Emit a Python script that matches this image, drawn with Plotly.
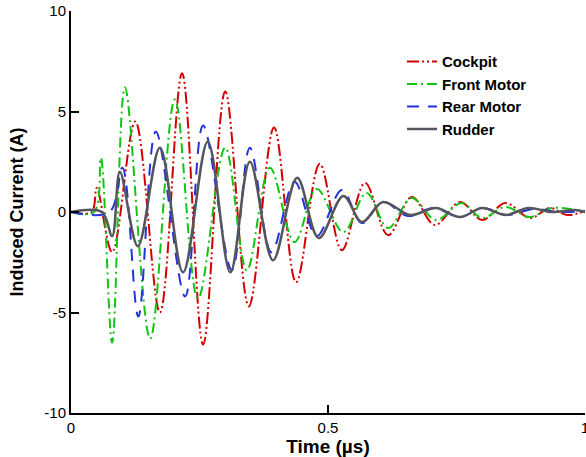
import plotly.graph_objects as go

# Time (µs) and induced current (A) (peaks/troughs)
cockpit_t = [0, 0.04, 0.05, 0.08, 0.125, 0.173, 0.216, 0.257, 0.30, 0.346, 0.395, 0.438, 0.484,
             0.527, 0.572, 0.617, 0.663, 0.708, 0.757, 0.80, 0.845, 0.893, 0.932, 0.965, 1.0]
cockpit_y = [0, 0, 1.2, -2.0, 4.5, -5.0, 6.9, -6.6, 6.0, -4.7, 4.2, -3.5, 2.4,
             -1.9, 1.45, -1.15, 0.75, -0.65, 0.5, -0.4, 0.45, -0.3, 0.2, -0.15, 0.05]

front_t = [0, 0.045, 0.058, 0.08, 0.105, 0.154, 0.202, 0.247, 0.30, 0.342, 0.387, 0.435, 0.478,
           0.53, 0.575, 0.617, 0.663, 0.71, 0.76, 0.80, 0.845, 0.893, 0.935, 1.0]
front_y = [0, 0, 2.7, -6.5, 6.2, -6.3, 5.6, -4.3, 3.2, -2.9, 2.2, -1.5, 1.15,
           -1.0, 0.95, -0.8, 0.7, -0.4, 0.45, -0.3, 0.25, -0.25, 0.2, 0.0]

rear_t = [0, 0.075, 0.10, 0.131, 0.165, 0.222, 0.257, 0.313, 0.348, 0.39, 0.435, 0.478, 0.527,
          0.566, 0.607, 0.655, 0.705, 0.757, 0.80, 0.85, 0.90, 0.95, 1.0]
rear_y = [0, 0, 2.2, -5.2, 4.0, -4.2, 4.3, -2.9, 3.2, -2.0, 1.5, -1.2, 1.1,
          -0.55, 0.5, -0.2, 0.2, -0.25, 0.2, -0.15, 0.15, 0.0, 0.05]

rudder_t = [0, 0.06, 0.08, 0.095, 0.13, 0.173, 0.218, 0.266, 0.31, 0.348, 0.393, 0.44, 0.482,
            0.53, 0.566, 0.607, 0.66, 0.71, 0.757, 0.80, 0.845, 0.89, 0.935, 0.98, 1.0]
rudder_y = [0, 0, -1.2, 2.0, -1.7, 3.2, -3.0, 3.5, -3.0, 2.5, -2.4, 1.7, -1.3,
            0.8, -0.5, 0.5, -0.15, 0.2, -0.25, 0.2, -0.15, 0.2, 0.0, 0.1, 0.0]

x_ticks = [0, 0.5, 1]
x_tick_labels = ["0", "0.5", "1"]
y_ticks = [-10, -5, 0, 5, 10]
y_tick_labels = ["-10", "-5", "0", "5", "10"]

fig = go.Figure()
fig.add_trace(go.Scatter(x=cockpit_t, y=cockpit_y, name="Cockpit", mode="lines",
                         line=dict(color="#d40000", width=2, shape="spline",
                                   dash="12px,3px,2px,3px,2px,3px")))
fig.add_trace(go.Scatter(x=front_t, y=front_y, name="Front Motor", mode="lines",
                         line=dict(color="#11c411", width=2, shape="spline",
                                   dash="10px,4px,2px,4px")))
fig.add_trace(go.Scatter(x=rear_t, y=rear_y, name="Rear Motor", mode="lines",
                         line=dict(color="#2233dd", width=2, shape="spline",
                                   dash="12px,9px")))
fig.add_trace(go.Scatter(x=rudder_t, y=rudder_y, name="Rudder", mode="lines",
                         line=dict(color="#55555f", width=2.5, shape="spline")))

fig.update_layout(
    width=586, height=457,
    margin=dict(l=71, r=1, t=11, b=44, autoexpand=False),
    paper_bgcolor="white", plot_bgcolor="white",
    font=dict(family="Liberation Sans, Arial, sans-serif", color="black", size=15),
    legend=dict(x=0.644, y=0.915, xanchor="left", yanchor="top",
                bgcolor="rgba(0,0,0,0)", tracegroupgap=0,
                font=dict(size=15, family="Liberation Sans, Arial, sans-serif", weight="bold")),
    xaxis=dict(range=[0, 1], tickvals=x_ticks, ticktext=x_tick_labels, automargin=False,
               ticklabeloverflow="allow",
               showgrid=False, zeroline=False, showline=True, linecolor="black", linewidth=2,
               ticks="inside", ticklen=8, tickwidth=2, tickcolor="black",
               tickfont=dict(size=15),
               title=dict(text="<b>Time (µs)</b>", font=dict(size=19), standoff=2)),
    yaxis=dict(range=[-10, 10], tickvals=y_ticks, ticktext=y_tick_labels, automargin=False,
               ticklabeloverflow="allow",
               showgrid=False, zeroline=False, showline=True, linecolor="black", linewidth=2,
               ticks="inside", ticklen=8, tickwidth=2, tickcolor="black",
               tickfont=dict(size=15),
               title=dict(text="<b>Induced Current (A)</b>", font=dict(size=18), standoff=16)),
)

# remove the default 8px page margin so the 586x457 figure fills the window
fig.write_html("out.html", config={"displayModeBar": False},
               post_script="document.body.style.margin='0';")
